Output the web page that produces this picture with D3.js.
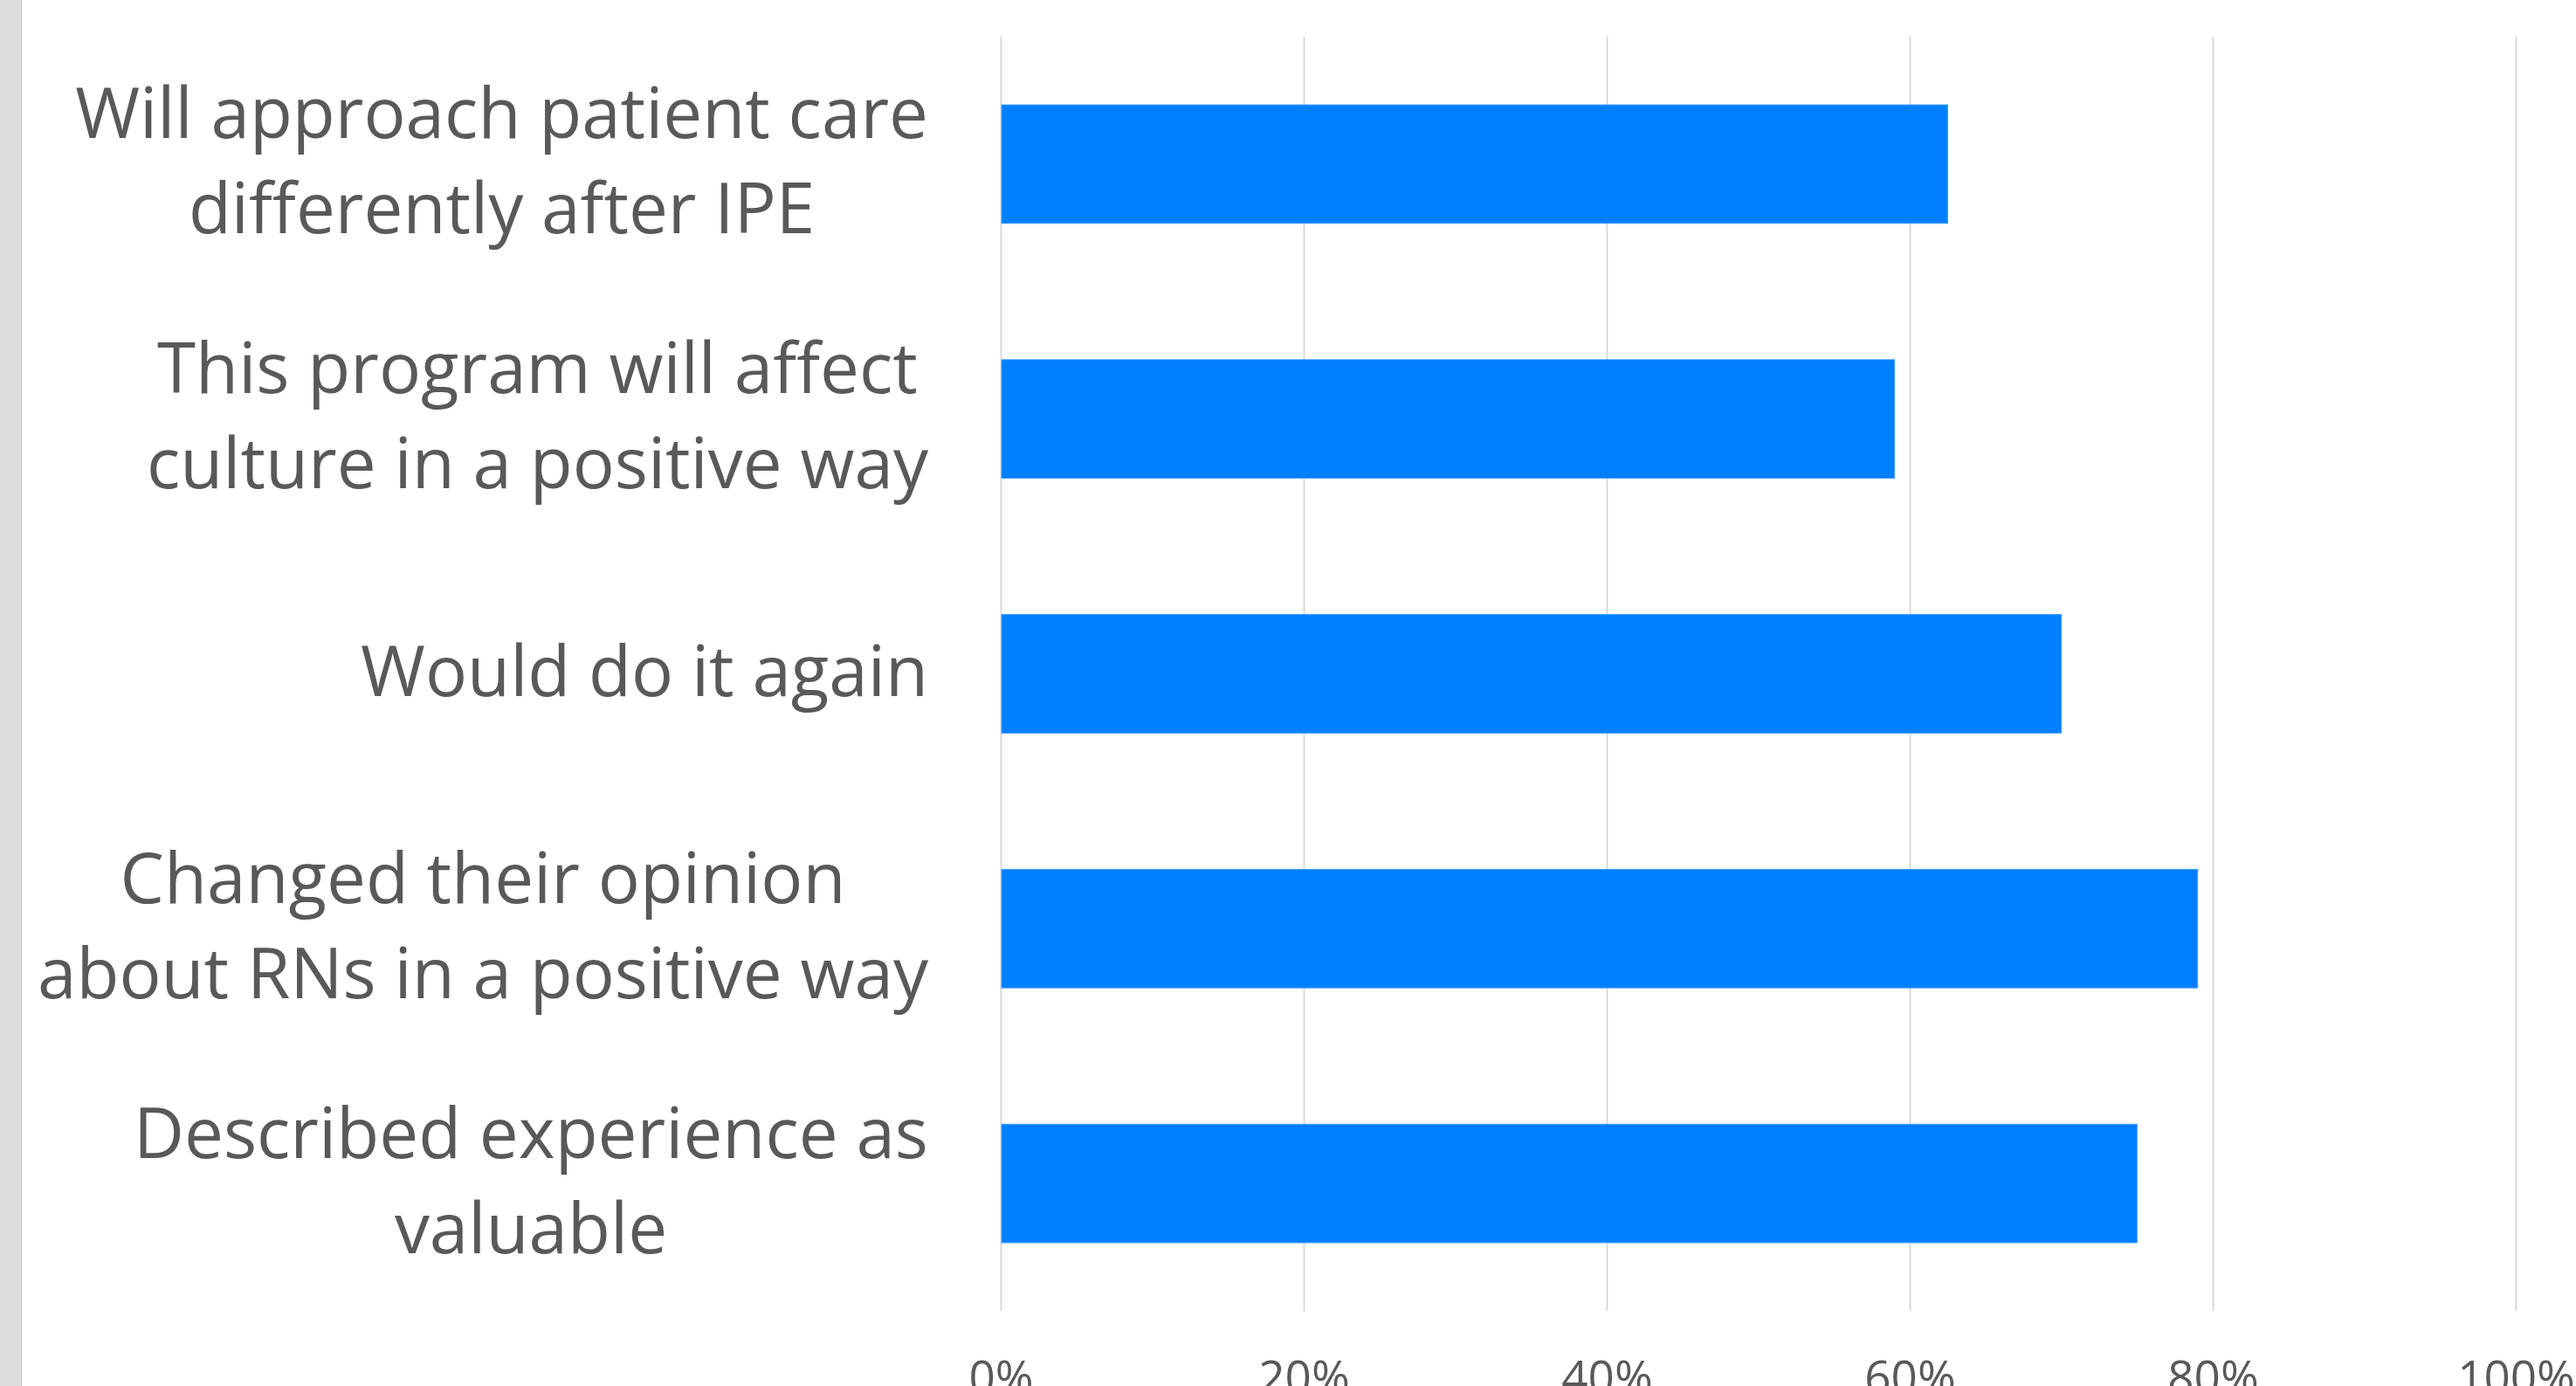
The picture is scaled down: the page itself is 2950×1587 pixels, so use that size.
<!DOCTYPE html>
<html>
<head>
<meta charset="utf-8">
<script src="https://cdn.jsdelivr.net/npm/d3@7"></script>
<style>
  html, body { margin: 0; padding: 0; background: #ffffff; }
  svg { display: block; }
</style>
</head>
<body>
<div id="chart"></div>
<script>
// category labels, already wrapped the way the source chart wraps them
const categories = [
    ['Will approach patient care', 'differently after IPE'],
    ['This program will affect', 'culture in a positive way'],
    ['Would do it again'],
    ['Changed their opinion', 'about RNs in a positive way'],
    ['Described experience as', 'valuable']
];
const values = [0.625, 0.59, 0.70, 0.79, 0.75];
const tickValues = [0, 0.2, 0.4, 0.6, 0.8, 1.0];

const width = 2950;
const height = 1587;
const plot = { left: 1146, right: 2881, top: 42, bottom: 1501 };
const labelRight = 1063;
const labelSize = 80;
const lineHeight = 109;

const svg = d3.select('#chart').append('svg')
    .attr('width', width)
    .attr('height', height);

svg.append('rect')
    .attr('width', width)
    .attr('height', height)
    .attr('fill', '#ffffff');

// grey strip on the left edge
svg.append('rect')
    .attr('x', 0)
    .attr('y', 0)
    .attr('width', 24)
    .attr('height', height)
    .attr('fill', '#dcdcdc');
svg.append('line')
    .attr('x1', 24.5).attr('x2', 24.5)
    .attr('y1', 0).attr('y2', height)
    .attr('stroke', '#c8c8c8')
    .attr('stroke-width', 1);

const x = d3.scaleLinear().domain([0, 1]).range([plot.left, plot.right]);
const y = d3.scaleBand()
    .domain(d3.range(categories.length))
    .range([plot.top, plot.bottom])
    .paddingInner(0.535)
    .paddingOuter(0.2675);

const xAxis = d3.axisBottom(x)
    .tickValues(tickValues)
    .tickSizeInner(-(plot.bottom - plot.top))
    .tickSizeOuter(0)
    .tickPadding(57)
    .tickFormat(d3.format('.0%'));

const axisG = svg.append('g')
    .attr('transform', `translate(0, ${plot.bottom})`)
    .call(xAxis);
axisG.select('.domain').remove();
axisG.selectAll('line')
    .attr('stroke', '#d9d9d9')
    .attr('stroke-width', 2);
axisG.selectAll('text')
    .attr('fill', '#595959')
    .style('font-family', '"Open Sans", "Noto Sans", sans-serif')
    .style('font-size', '53px');

svg.selectAll('.bar')
    .data(values)
    .enter()
    .append('rect')
    .attr('class', 'bar')
    .attr('x', x(0) + 1)
    .attr('y', (d, i) => y(i))
    .attr('width', d => x(d) - x(0) - 1)
    .attr('height', y.bandwidth())
    .attr('fill', '#007fff')
    .attr('stroke', '#3d9bff')
    .attr('stroke-width', 1);

// wrapped labels: lines centred on each other, block pushed against the axis
const labelG = svg.append('g');
categories.forEach((lines, i) => {
    const cy = y(i) + y.bandwidth() / 2;
    const t = labelG.append('text')
        .attr('fill', '#595959')
        .attr('text-anchor', 'middle')
        .style('font-family', '"Open Sans", "Noto Sans", sans-serif')
        .style('font-size', labelSize + 'px');
    const spans = lines.map((s, j) => t.append('tspan')
        .attr('y', cy + (j - (lines.length - 1) / 2) * lineHeight + 25)
        .text(s));
    const blockW = d3.max(spans, s => s.node().getComputedTextLength());
    const cx = labelRight - blockW / 2;
    spans.forEach(s => s.attr('x', cx));
});
</script>
</body>
</html>
